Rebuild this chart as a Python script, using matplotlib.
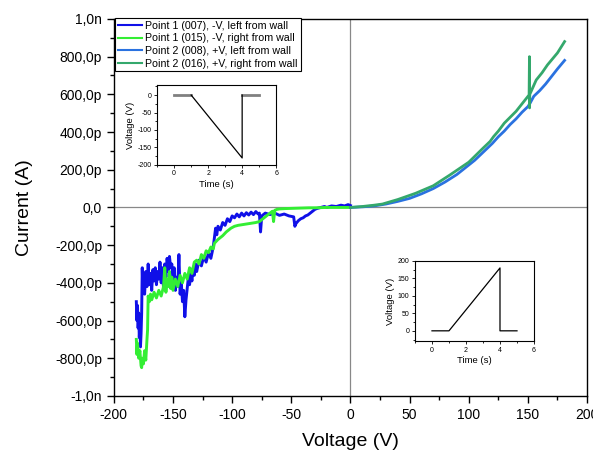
import numpy as np
import matplotlib.pyplot as plt
from matplotlib.ticker import MultipleLocator, FixedLocator, FixedFormatter

plt.rcParams['font.family'] = ['Liberation Sans', 'DejaVu Sans']
plt.rcParams['axes.unicode_minus'] = False

# Point 1 (007), -V, left from wall   (voltage V, current pA)
v_007 = [-181, -180.5, -180, -179.5, -179, -178.5, -178, -177.5, -177, -176.5, -176, -175.5,
         -175, -174, -173, -172, -171, -170, -169, -168, -167, -166, -165, -164, -163, -162,
         -161, -160, -159, -158, -157, -156, -155, -154, -153, -152, -151, -150, -149, -148,
         -147, -146, -145, -144, -143, -142, -141, -140, -139, -138, -137, -136, -135, -134,
         -133, -132, -131, -130, -128, -126, -124, -122, -120, -118, -116, -115, -114, -113,
         -112, -110, -108, -106, -104, -102, -100, -98, -96, -94, -92, -90, -88, -86, -84,
         -82, -80, -78, -77, -76, -75, -72, -68, -64, -60, -56, -52, -48, -47, -46, -44, -42,
         -40, -38, -36, -34, -32, -30, -28, -25, -22, -20, -16, -12, -8, -5, -2, 0]
i_007 = [-500, -600, -520, -640, -560, -690, -620, -740, -670, -560, -320, -440,
         -380, -460, -340, -420, -300, -410, -350, -440, -330, -390, -320, -410, -340, -380,
         -290, -400, -320, -430, -300, -370, -270, -340, -260, -320, -300, -390, -320, -440,
         -370, -420, -250, -460, -400, -500, -440, -580, -490, -430, -370, -410, -350, -390,
         -320, -360, -300, -340, -280, -310, -260, -290, -240, -270, -210, -160, -110, -145,
         -100, -120, -80, -95, -60, -75, -45, -55, -35, -50, -30, -45, -28, -40, -25,
         -38, -22, -35, -30, -130, -45, -30, -38, -30, -42, -35, -45, -50, -100, -85, -70, -60,
         -55, -45, -40, -30, -20, -10, -5, 0, 5, 0, 8, 5, 12, 8, 15, 10]

# Point 1 (015), -V, right from wall
v_015 = [-181, -180.5, -180, -179, -178, -177, -176.5, -176, -175, -174, -173, -172, -171.5,
         -171, -170, -169, -168, -166, -164, -162, -160, -158, -157, -156, -155, -154, -153,
         -152, -151, -150, -148, -146, -144, -142, -140, -138, -136, -134, -132, -130, -128,
         -126, -124, -122, -120, -118, -116, -115, -112, -110, -108, -105, -101, -98, -95,
         -90, -85, -80, -77, -74, -72, -70, -68, -66, -65, -64, -62, -60, -55, -50, -45, -40,
         -35, -30, -25, -20, -15, -10, -5, 0]
i_015 = [-700, -780, -720, -800, -760, -840, -850, -800, -830, -760, -810, -700, -650,
         -470, -500, -460, -490, -450, -480, -440, -470, -420, -320, -450, -380, -420, -340,
         -430, -370, -440, -380, -420, -360, -400, -350, -380, -320, -350, -290, -280, -300,
         -250, -270, -230, -240, -210, -220, -190, -170, -160, -150, -130, -110, -100, -95,
         -90, -85, -80, -75, -60, -50, -40, -30, -20, -75, -15, -10, -8, -6, -5, -4, -3,
         -2, -2, -1, 0, 0, 0, 0, 0]

# Point 2 (008), +V, left from wall
v_008 = [0, 10, 20, 30, 40, 50, 60, 70, 80, 90, 100, 105, 110, 115, 120, 125, 130, 135,
         140, 145, 150, 152, 155, 160, 165, 170, 175, 181]
i_008 = [0, 3, 8, 18, 32, 48, 72, 100, 135, 175, 225, 250, 280, 310, 340, 375, 405, 440,
         470, 505, 535, 555, 590, 620, 655, 695, 735, 780]

# Point 2 (016), +V, right from wall
v_016 = [0, 10, 20, 27, 40, 55, 70, 84, 100, 112, 118, 121, 125, 130, 140, 151, 151.3,
         151.4, 151.6, 157, 162, 166.5, 175, 181]
i_016 = [0, 5, 12, 18, 42, 75, 115, 172, 240, 314, 350, 376, 405, 447, 510, 597, 800,
         528, 600, 676, 715, 756, 820, 880]

labels = ['Point 1 (007), -V, left from wall', 'Point 1 (015), -V, right from wall',
          'Point 2 (008), +V, left from wall', 'Point 2 (016), +V, right from wall']
colors = ['#1010e8', '#33ee33', '#2a72e0', '#34a86c']

y_ticks = [-1000, -800, -600, -400, -200, 0, 200, 400, 600, 800, 1000]
y_ticklabels = ['-1,0n', '-800,0p', '-600,0p', '-400,0p', '-200,0p', '0,0',
                '200,0p', '400,0p', '600,0p', '800,0p', '1,0n']

t_pulse = [0, 1, 4, 4, 5]
v_neg_pulse = [0, 0, -180, 0, 0]
v_pos_pulse = [0, 0, 180, 0, 0]

fig = plt.figure(figsize=(5.93, 4.62), dpi=100)
ax = fig.add_axes([0.192, 0.143, 0.798, 0.816])

ax.axhline(0, color='#888888', lw=0.9, zorder=0)
ax.axvline(0, color='#888888', lw=0.9, zorder=0)

ax.plot(v_007, i_007, color=colors[0], lw=2.1, label=labels[0])
ax.plot(v_015, i_015, color=colors[1], lw=2.1, label=labels[1])
ax.plot(v_008, i_008, color=colors[2], lw=2.0, label=labels[2])
ax.plot(v_016, i_016, color=colors[3], lw=2.0, label=labels[3])

ax.set_xlim(-200, 200)
ax.set_ylim(-1000, 1000)
ax.xaxis.set_major_locator(MultipleLocator(50))
ax.xaxis.set_minor_locator(MultipleLocator(25))
ax.yaxis.set_major_locator(FixedLocator(y_ticks))
ax.yaxis.set_major_formatter(FixedFormatter(y_ticklabels))
ax.yaxis.set_minor_locator(MultipleLocator(100))
ax.tick_params(which='major', direction='out', length=5, width=1, labelsize=10)
ax.tick_params(which='minor', direction='out', length=3, width=1)
for s in ax.spines.values():
    s.set_linewidth(1)
ax.set_xlabel('Voltage (V)', fontsize=14, labelpad=8)
ax.set_ylabel('Current (A)', fontsize=14, labelpad=16)

leg = ax.legend(loc='upper left', bbox_to_anchor=(0.0, 1.005), fontsize=7.7, frameon=True,
                fancybox=False, edgecolor='black', framealpha=1, borderaxespad=0.1,
                borderpad=0.25, labelspacing=0.25, handlelength=2.3, handletextpad=0.3)
leg.get_frame().set_linewidth(0.8)
for h in leg.get_lines():
    h.set_linewidth(1.5)

def inset(rect, v, ylim, yticks, gray_flat):
    a = fig.add_axes(rect)
    if gray_flat:
        a.plot(t_pulse[:2], v[:2], color='#808080', lw=2)
        a.plot(t_pulse[3:], v[3:], color='#808080', lw=2)
        a.plot(t_pulse[1:4], v[1:4], color='black', lw=0.9)
    else:
        a.plot(t_pulse, v, color='black', lw=0.9)
    a.set_xlim(-1, 6)
    a.set_ylim(*ylim)
    a.set_xticks([0, 2, 4, 6])
    a.xaxis.set_minor_locator(MultipleLocator(1))
    a.set_yticks(yticks)
    a.yaxis.set_minor_locator(MultipleLocator(25))
    a.tick_params(which='major', direction='out', length=2.5, width=0.6, labelsize=5, pad=1.5)
    a.tick_params(which='minor', direction='out', length=1.5, width=0.6)
    for s in a.spines.values():
        s.set_linewidth(0.8)
    a.set_xlabel('Time (s)', fontsize=6.8, labelpad=2)
    a.set_ylabel('Voltage (V)', fontsize=6.8, labelpad=2)
    return a

inset([0.265, 0.643, 0.2007, 0.1732], v_neg_pulse, (-200, 29), [-200, -150, -100, -50, 0], True)
inset([0.6998, 0.262, 0.2007, 0.1732], v_pos_pulse, (-29, 200), [0, 50, 100, 150, 200], False)

fig.savefig('out.png', dpi=100)
